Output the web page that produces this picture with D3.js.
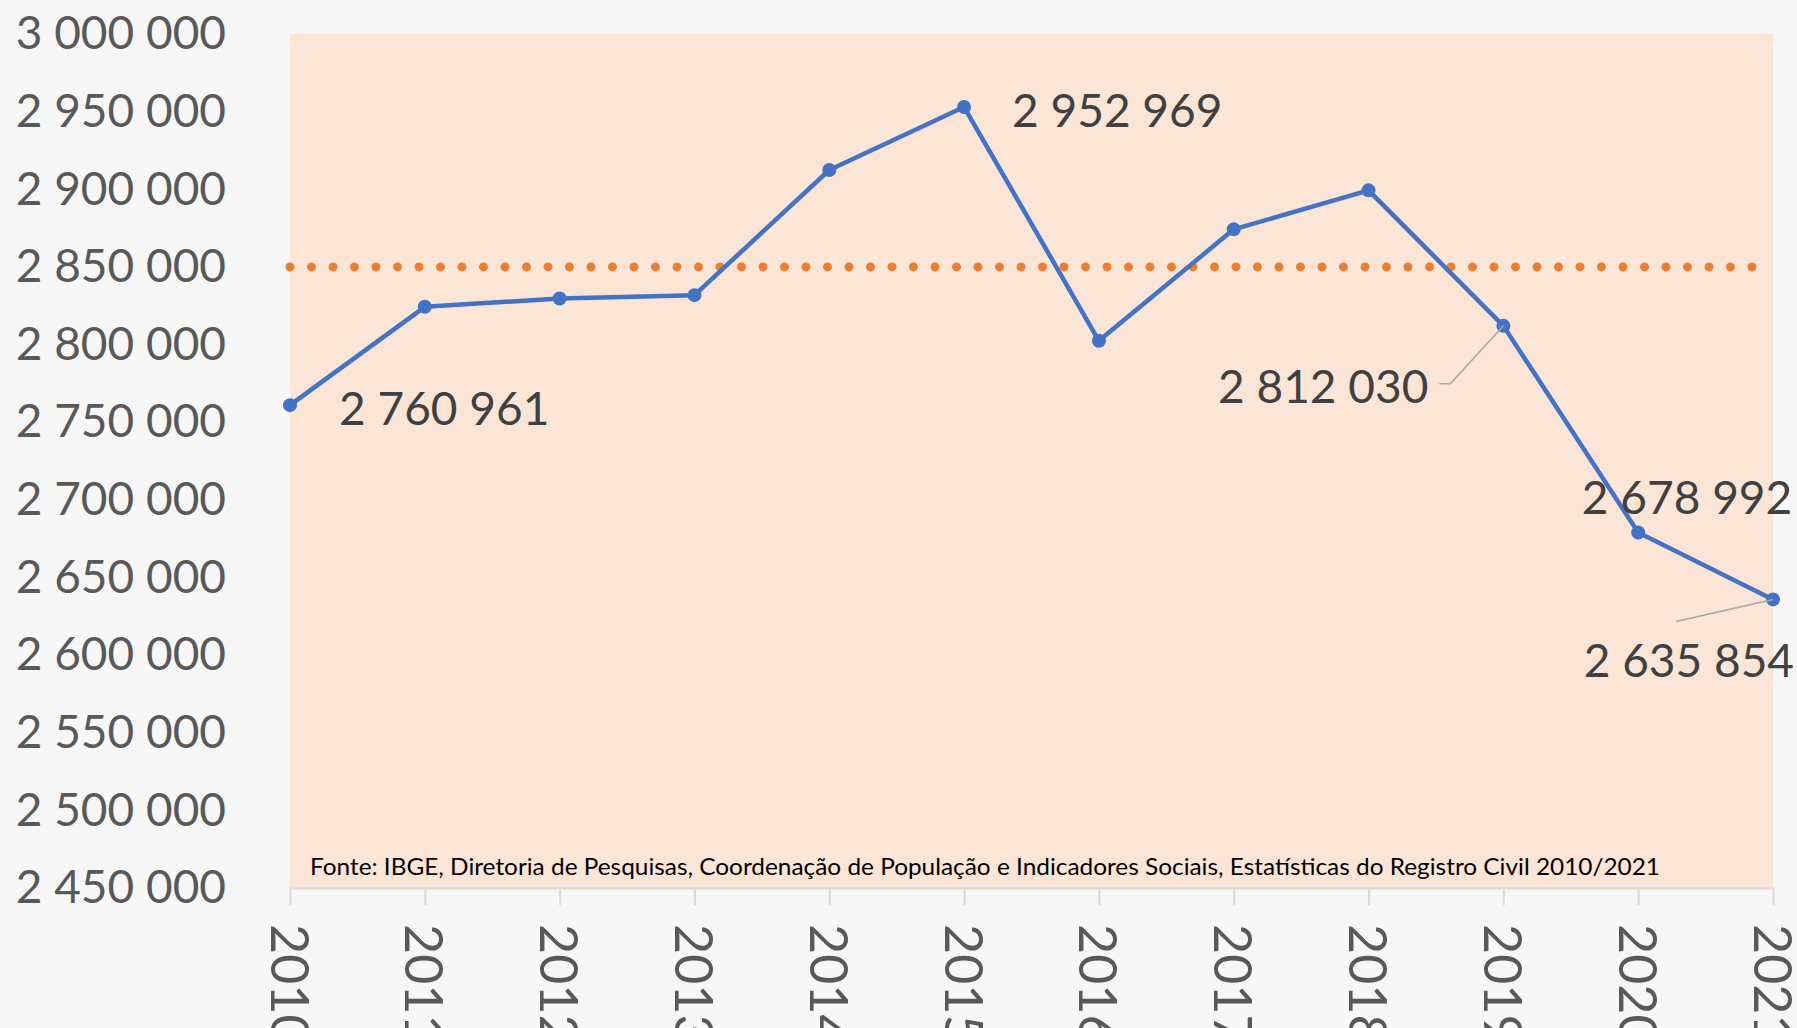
<!DOCTYPE html>
<html>
<head>
<meta charset="utf-8">
<script src="https://cdn.jsdelivr.net/npm/d3@7"></script>
<style>
  body { margin: 0; background: #f7f7f7; }
  svg { display: block; }
  text { font-family: Lato, "Open Sans", sans-serif; }
</style>
</head>
<body>
<div id="chart"></div>
<script>
// births registered per year (IBGE, Registro Civil)
var years = ["2010", "2011", "2012", "2013", "2014", "2015", "2016", "2017", "2018", "2019", "2020", "2021"];
var births = [2760961, 2824300, 2829700, 2831800, 2912400, 2952969, 2802400, 2874200, 2899300, 2812030, 2678992, 2635854];
var refLine = [2850000];
var yTicks = [2450000, 2500000, 2550000, 2600000, 2650000, 2700000, 2750000, 2800000, 2850000, 2900000, 2950000, 3000000];
var labelledYears = ["2010", "2015", "2019", "2020", "2021"];
var source = "Fonte: IBGE, Diretoria de Pesquisas, Coordenação de População e Indicadores Sociais, Estatísticas do Registro Civil 2010/2021";

var W = 1797, H = 1028;
var plot = {left: 290, right: 1773, top: 34, bottom: 888};

var fmt = d3.formatLocale({decimal: ",", thousands: " ", grouping: [3], currency: ["", ""]}).format(",d");

var svg = d3.select("#chart").append("svg")
    .attr("width", W)
    .attr("height", H);

// plot area background
svg.append("rect")
    .attr("x", plot.left)
    .attr("y", plot.top)
    .attr("width", plot.right - plot.left)
    .attr("height", plot.bottom - plot.top)
    .attr("fill", "#fbe5d6");

var xScale = d3.scalePoint()
    .domain(years)
    .range([plot.left, plot.right]);

var yScale = d3.scaleLinear()
    .domain([2450000, 3000000])
    .range([plot.bottom, plot.top]);

// y axis labels, no line
var yAxis = svg.append("g")
    .attr("transform", "translate(" + plot.left + ",0)")
    .call(d3.axisLeft(yScale).tickValues(yTicks).tickFormat(fmt).tickSize(0).tickPadding(64));
yAxis.select(".domain").remove();
yAxis.selectAll("text")
    .attr("font-size", 46)
    .attr("fill", "#595959")
    .attr("font-family", "Lato, sans-serif");

// x axis
var xAxis = svg.append("g")
    .attr("transform", "translate(0," + plot.bottom + ")")
    .call(d3.axisBottom(xScale).tickSize(17).tickSizeOuter(0));
xAxis.select(".domain").attr("stroke", "#d9d9d9").attr("stroke-width", 2);
xAxis.selectAll(".tick line").attr("stroke", "#d9d9d9").attr("stroke-width", 2);
xAxis.selectAll("text")
    .attr("font-size", 52)
    .attr("fill", "#595959")
    .attr("font-family", "Lato, sans-serif")
    .attr("text-anchor", "start")
    .attr("dominant-baseline", "central")
    .attr("y", 0)
    .attr("dy", null)
    .attr("transform", "translate(0,36) rotate(90)");

// reference line (dotted)
svg.selectAll(".ref")
    .data(refLine)
    .enter()
    .append("line")
    .attr("x1", plot.left)
    .attr("x2", plot.right)
    .attr("y1", d => yScale(d))
    .attr("y2", d => yScale(d))
    .attr("stroke", "#ed7d31")
    .attr("stroke-width", 9)
    .attr("stroke-linecap", "round")
    .attr("stroke-dasharray", "0 21.5");

// births line
var line = d3.line()
    .x((d, i) => xScale(years[i]))
    .y(d => yScale(d));

svg.append("path")
    .datum(births)
    .attr("d", line)
    .attr("fill", "none")
    .attr("stroke", "#4472c4")
    .attr("stroke-width", 4.5)
    .attr("stroke-linejoin", "round");

svg.append("g")
    .selectAll("circle")
    .data(births)
    .enter()
    .append("circle")
    .attr("cx", (d, i) => xScale(years[i]))
    .attr("cy", d => yScale(d))
    .attr("r", 7)
    .attr("fill", "#4472c4");

// data labels
var labelPos = {
  "2010": {dx: 49, dy: 2, anchor: "start"},
  "2015": {dx: 48, dy: 2, anchor: "start"},
  "2019": {dx: -75, dy: 60, anchor: "end", leader: [[-53, 58], [-64, 58]]},
  "2020": {dx: 154, dy: -36, anchor: "end"},
  "2021": {dx: 21, dy: 60, anchor: "end", leader: [[-97, 22]]}
};

labelledYears.forEach(function(yr) {
  var i = years.indexOf(yr);
  var px = xScale(yr), py = yScale(births[i]);
  var p = labelPos[yr];
  if (p.leader) {
    var pts = [[px, py]].concat(p.leader.map(o => [px + o[0], py + o[1]]));
    svg.append("path")
      .attr("d", d3.line()(pts))
      .attr("fill", "none")
      .attr("stroke", "#a6a6a6")
      .attr("stroke-width", 1.5);
  }
  svg.append("text")
    .attr("x", px + p.dx)
    .attr("y", py + p.dy)
    .attr("text-anchor", p.anchor)
    .attr("dominant-baseline", "central")
    .attr("font-size", 46)
    .attr("fill", "#404040")
    .text(fmt(births[i]));
});

// source note
svg.append("text")
    .attr("x", 310)
    .attr("y", 866)
    .attr("dominant-baseline", "central")
    .attr("font-size", 23)
    .attr("textLength", 1350)
    .attr("lengthAdjust", "spacingAndGlyphs")
    .attr("fill", "#000")
    .text(source);
</script>
</body>
</html>
